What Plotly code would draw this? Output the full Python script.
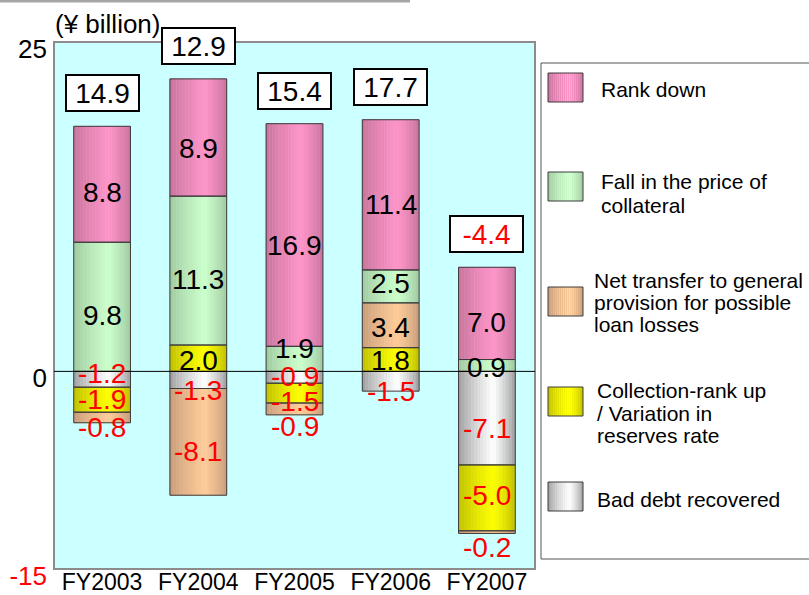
import plotly.graph_objects as go

# ---- data (¥ billion) ----
years = ["FY2003", "FY2004", "FY2005", "FY2006", "FY2007"]
bad_debt_recovered = [-1.2, -1.3, -0.9, -1.5, -7.1]
collection_rank_up = [-1.9, 2.0, -1.5, 1.8, -5.0]
net_transfer_general = [-0.8, -8.1, -0.9, 3.4, -0.2]
fall_collateral_price = [9.8, 11.3, 1.9, 2.5, 0.9]
rank_down = [8.8, 8.9, 16.9, 11.4, 7.0]
net_totals = [14.9, 12.9, 15.4, 17.7, -4.4]

y_tick_values = [25, 0, -15]
y_tick_labels = ["25", "0", "-15"]
unit_label = "(¥ billion)"

# stacking order: first series sits nearest the zero line
series = [
    ("bad", bad_debt_recovered),
    ("coll", collection_rank_up),
    ("net", net_transfer_general),
    ("fall", fall_collateral_price),
    ("rank", rank_down),
]

legend_entries = [
    ("rank", ["Rank down"]),
    ("fall", ["Fall in the price of", "collateral"]),
    ("net", ["Net transfer to general", "provision for possible", "loan losses"]),
    ("coll", ["Collection-rank up", "/ Variation in", "reserves rate"]),
    ("bad", ["Bad debt recovered"]),
]

# ---- styling ----
FONT = "Liberation Sans, Arial, sans-serif"
RED = "#ff0000"
SHADES = {  # (edge colour, highlight colour) of the cylinder-like gradient
    "rank": ("#c4729a", "#ff95c9"),
    "fall": ("#9ec69e", "#ccffcc"),
    "net": ("#c49a78", "#ffcc99"),
    "coll": ("#bcbc00", "#ffff00"),
    "bad": ("#989898", "#ffffff"),
}
OUTLINE = "#3c3c3c"
N_STRIPS = 18
BAR_W = 0.59

# visual downward nudge (px) of each value label from its segment centre
LABEL_DY = {
    "rank": [8, 11, 10, 10, 9],
    "fall": [9, 9, -10, -3, 2],
    "net": [10, 10, 18, 2, 15],
    "coll": [0, 2, 8, 1, -2],
    "bad": [-6, 11, -1, 10, 10],
}

W, H = 809, 595
L, R, T, B = 54, 535, 42, 569  # plot area in pixels


def px(x):
    return (x - L) / (R - L)


def py(y):
    return (B - y) / (B - T)


def hex_rgb(h):
    h = h.lstrip("#")
    return tuple(int(h[i:i + 2], 16) for i in (0, 2, 4))


def shade(key, t, peak=0.62):
    dark, light = (hex_rgb(c) for c in SHADES[key])
    s = t / peak if t <= peak else (1 - t) / (1 - peak)
    s = max(0.0, min(1.0, s)) ** 0.75
    r, g, b = (round(d + (l - d) * s) for d, l in zip(dark, light))
    return f"rgb({r},{g},{b})"


# ---- stack bases (positive upward, negative downward) ----
bases = {}
pos_acc = [0.0] * len(years)
neg_acc = [0.0] * len(years)
for key, vals in series:
    b = []
    for i, v in enumerate(vals):
        if v >= 0:
            b.append(pos_acc[i])
            pos_acc[i] += v
        else:
            b.append(neg_acc[i])
            neg_acc[i] += v
    bases[key] = b

fig = go.Figure()

for key, vals in series:
    for k in range(N_STRIPS):
        t = (k + 0.5) / N_STRIPS
        c = shade(key, t)
        fig.add_trace(go.Bar(
            x=years, y=vals, base=bases[key],
            width=BAR_W / N_STRIPS, offset=-BAR_W / 2 + k * BAR_W / N_STRIPS,
            marker=dict(color=c, line=dict(color=c, width=0.6)),
            showlegend=False, hoverinfo="skip",
        ))
for key, vals in series:
    fig.add_trace(go.Bar(
        x=years, y=vals, base=bases[key], width=BAR_W, offset=-BAR_W / 2,
        marker=dict(color="rgba(0,0,0,0)", line=dict(color=OUTLINE, width=1)),
        showlegend=False, hoverinfo="skip",
    ))

annotations = []
# value labels inside / beside each segment
for key, vals in series:
    for i, v in enumerate(vals):
        annotations.append(dict(
            x=years[i], y=bases[key][i] + v / 2, xref="x", yref="y",
            text=f"{v:.1f}", showarrow=False, yshift=-LABEL_DY[key][i],
            font=dict(family=FONT, size=28, color="black" if v >= 0 else RED),
        ))

# net total boxes above each column
for i, v in enumerate(net_totals):
    annotations.append(dict(
        x=years[i], y=pos_acc[i], xref="x", yref="y", yanchor="bottom",
        yshift=14, text=f"{v:.1f}", showarrow=False,
        width=71, height=34, bgcolor="white", bordercolor="black",
        borderwidth=2, borderpad=0,
        font=dict(family=FONT, size=28, color="black" if v >= 0 else RED),
    ))

annotations.append(dict(
    x=px(53), y=py(24), xref="paper", yref="paper", xanchor="left",
    yanchor="middle", text=unit_label, showarrow=False,
    font=dict(family=FONT, size=26, color="black"),
))

shapes = [
    # thin rule across the top of the page
    dict(type="line", xref="paper", yref="paper", x0=px(0), x1=px(410),
         y0=py(1), y1=py(1), line=dict(color="#a5a5a5", width=3)),
    # plot frame
    dict(type="rect", xref="paper", yref="paper", x0=0, x1=1, y0=0, y1=1,
         line=dict(color="#8c8c8c", width=2)),
    # zero line
    dict(type="line", xref="paper", yref="y", x0=0, x1=1, y0=0, y1=0,
         line=dict(color="black", width=1)),
    # legend frame
    dict(type="rect", xref="paper", yref="paper", x0=px(541), x1=px(815),
         y0=py(559), y1=py(63), line=dict(color="#555555", width=1),
         fillcolor="white", layer="below"),
]

# legend swatches and texts
sw_x0, sw_x1, sw_h = 548, 583, 29
sw_tops = [73, 172, 287, 387, 482]
text_x = [599, 599, 592, 595, 595]
text_first = [89, 181, 280, 390, 499]
line_gap = [0, 24, 22, 23, 0]
for j, (key, lines) in enumerate(legend_entries):
    top = sw_tops[j]
    for k in range(N_STRIPS):
        t0, t1 = k / N_STRIPS, (k + 1) / N_STRIPS
        c = shade(key, (t0 + t1) / 2)
        shapes.append(dict(
            type="rect", xref="paper", yref="paper",
            x0=px(sw_x0 + (sw_x1 - sw_x0) * t0), x1=px(sw_x0 + (sw_x1 - sw_x0) * t1),
            y0=py(top + sw_h), y1=py(top), fillcolor=c, line=dict(width=0),
        ))
    shapes.append(dict(
        type="rect", xref="paper", yref="paper", x0=px(sw_x0), x1=px(sw_x1),
        y0=py(top + sw_h), y1=py(top), line=dict(color=OUTLINE, width=1),
    ))
    for n, line in enumerate(lines):
        annotations.append(dict(
            x=px(text_x[j]), y=py(text_first[j] + n * line_gap[j]),
            xref="paper", yref="paper", xanchor="left", yanchor="middle",
            text=line, showarrow=False,
            font=dict(family=FONT, size=21, color="black"),
        ))

tick_text = [
    f'<span style="color:{RED}">{t}</span>' if v < 0 else t
    for v, t in zip(y_tick_values, y_tick_labels)
]

fig.update_layout(
    width=W, height=H, autosize=False,
    margin=dict(l=L, r=W - R, t=T, b=H - B, pad=0, autoexpand=False),
    paper_bgcolor="white", plot_bgcolor="#ccffff",
    barmode="overlay", showlegend=False,
    font=dict(family=FONT, color="black"),
    xaxis=dict(type="category", range=[-0.5, len(years) - 0.5],
               showgrid=False, zeroline=False, showline=False, ticks="",
               automargin=False,
               tickfont=dict(size=23), ticklabelstandoff=-3),
    yaxis=dict(range=[-15, 25], showgrid=False, zeroline=False, showline=False,
               ticks="", tickvals=y_tick_values, ticktext=tick_text,
               automargin=False,
               tickfont=dict(size=26), ticklabelstandoff=6,
               ticklabelshift=7),
    shapes=shapes, annotations=annotations,
)

fig.write_html("out.html")
